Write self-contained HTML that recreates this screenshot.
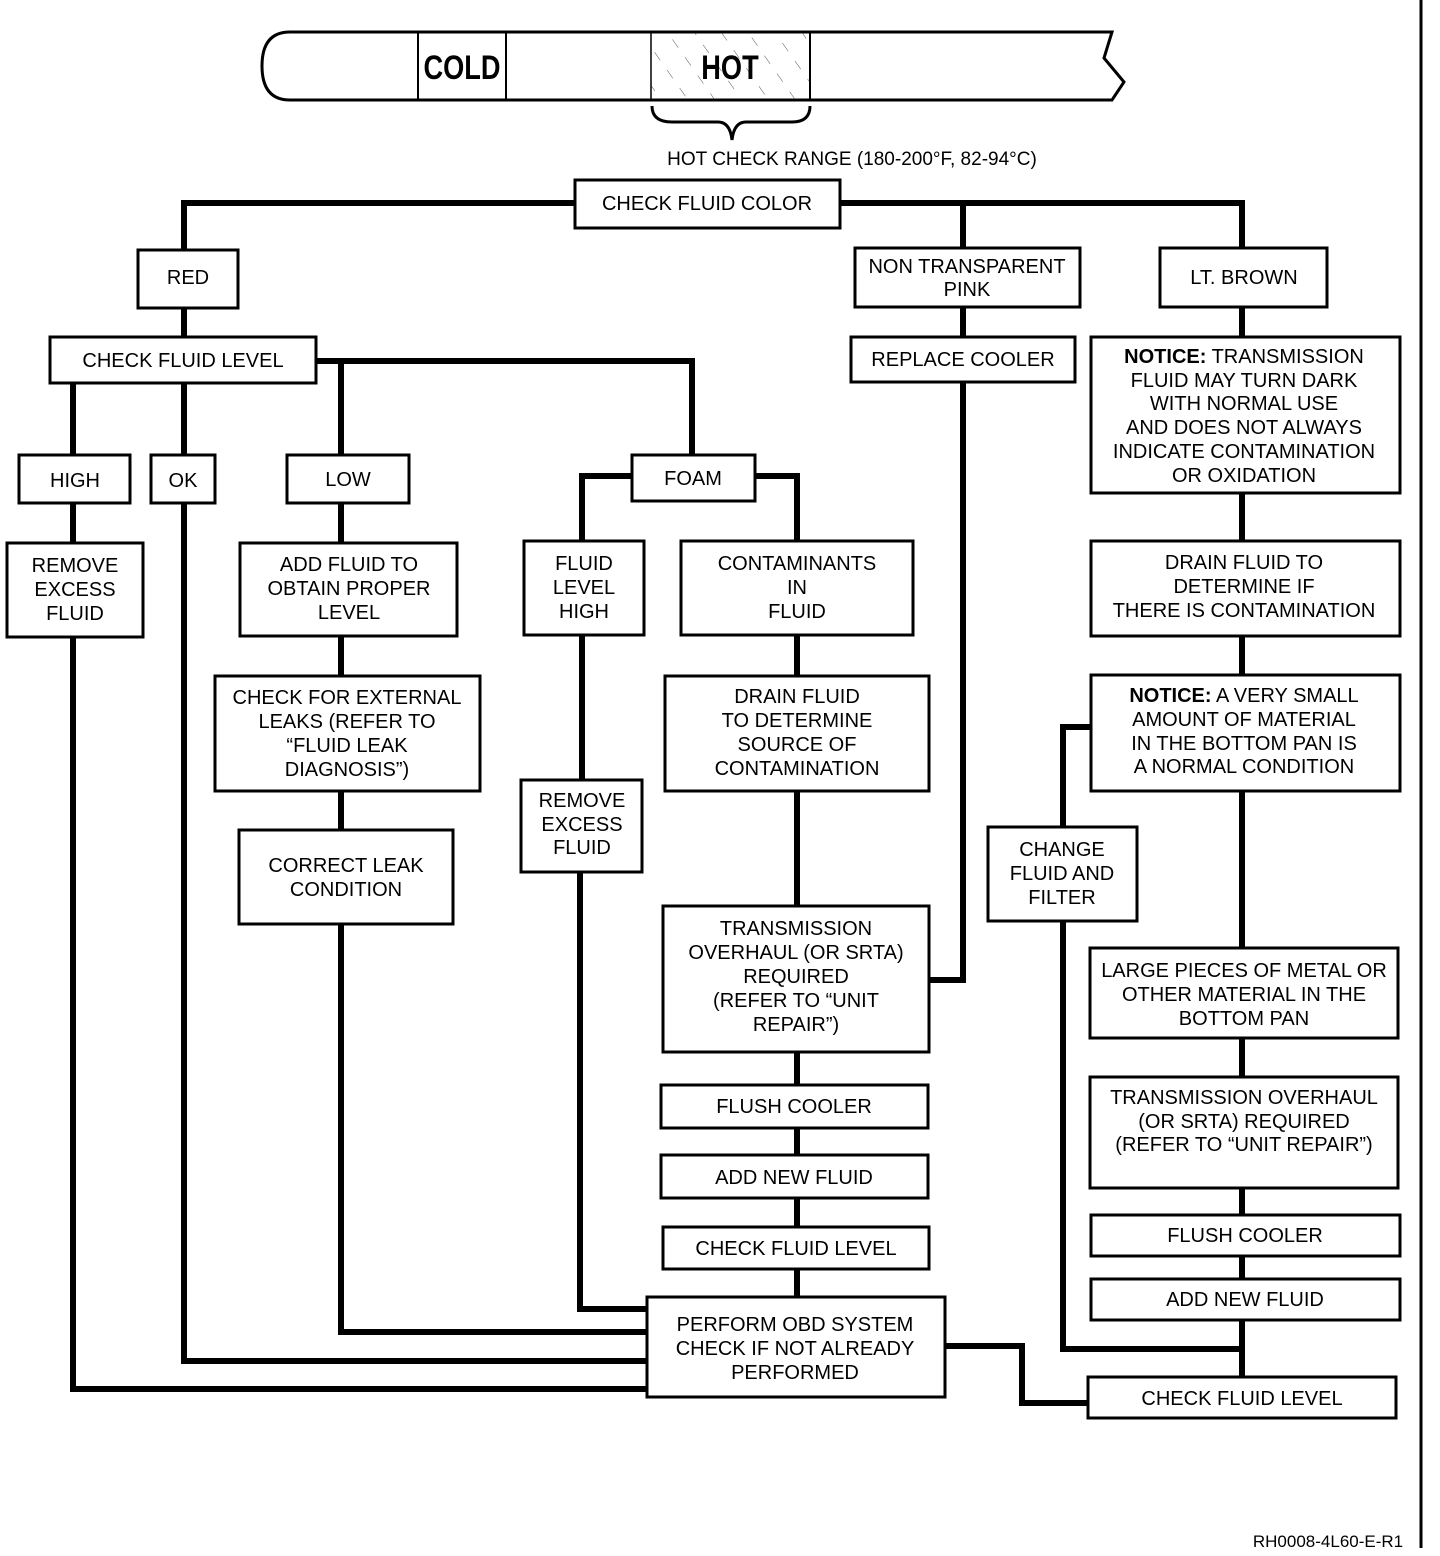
<!DOCTYPE html>
<html><head><meta charset="utf-8"><style>
html,body{margin:0;padding:0;background:#fff}
svg{display:block}
text{font-family:"Liberation Sans",Arial,sans-serif;font-size:20px;fill:#000;text-anchor:middle}
.b{fill:#fff;stroke:#000;stroke-width:3}
.l{fill:none;stroke:#000;stroke-width:6;stroke-linejoin:miter}
</style></head><body>
<svg width="1440" height="1556" viewBox="0 0 1440 1556" xmlns="http://www.w3.org/2000/svg">
<defs>
<pattern id="h" width="22" height="22" patternUnits="userSpaceOnUse" patternTransform="rotate(-35)">
<line x1="0" y1="0" x2="0" y2="10" stroke="#555" stroke-width="1"/>
</pattern>
</defs>
<!-- dipstick -->
<path d="M290,32 L1112,32 L1104,58 L1124,82 L1112,100 L290,100 Q262,100 262,66 Q262,32 290,32 Z" fill="#fff" stroke="#000" stroke-width="3"/>
<line x1="418" y1="32" x2="418" y2="100" stroke="#000" stroke-width="2"/>
<line x1="506" y1="32" x2="506" y2="100" stroke="#000" stroke-width="2"/>
<rect x="651" y="33" width="159" height="66" fill="url(#h)"/>
<line x1="651" y1="32" x2="651" y2="100" stroke="#000" stroke-width="1.5"/>
<line x1="810" y1="32" x2="810" y2="100" stroke="#000" stroke-width="2"/>
<text x="462" y="79" style="font-size:34px;font-weight:bold" transform="translate(462 0) scale(0.8 1) translate(-462 0)">COLD</text>
<text x="730" y="79" style="font-size:34px;font-weight:bold" transform="translate(730 0) scale(0.8 1) translate(-730 0)">HOT</text>
<path d="M652,106 Q652,122 672,122 L718,122 Q730,122 732,140 Q734,122 746,122 L792,122 Q810,122 810,106" fill="none" stroke="#000" stroke-width="3"/>
<text x="852" y="165" style="font-size:19px">HOT CHECK RANGE (180-200°F, 82-94°C)</text>

<!-- right border line -->
<line x1="1421" y1="0" x2="1421" y2="1548" stroke="#000" stroke-width="3"/>

<!-- connectors -->
<g class="l">
<polyline points="184,250 184,203 575,203"/>
<polyline points="840,203 1242,203 1242,248"/>
<line x1="963" y1="203" x2="963" y2="248"/>
<line x1="184" y1="308" x2="184" y2="337"/>
<polyline points="316,361 692,361 692,455"/>
<line x1="341" y1="361" x2="341" y2="455"/>
<line x1="73" y1="383" x2="73" y2="455"/>
<line x1="184" y1="383" x2="184" y2="455"/>
<line x1="73" y1="503" x2="73" y2="543"/>
<line x1="341" y1="503" x2="341" y2="543"/>
<line x1="341" y1="636" x2="341" y2="676"/>
<line x1="341" y1="791" x2="341" y2="830"/>
<polyline points="632,476 582,476 582,541"/>
<polyline points="755,476 797,476 797,541"/>
<line x1="582" y1="635" x2="582" y2="780"/>
<line x1="797" y1="635" x2="797" y2="1297"/>
<polyline points="963,307 963,980 929,980"/>
<polyline points="73,637 73,1389 647,1389"/>
<polyline points="184,503 184,1361 647,1361"/>
<polyline points="341,924 341,1332 647,1332"/>
<polyline points="580,872 580,1309 647,1309"/>
<polyline points="945,1346 1022,1346 1022,1403 1088,1403"/>
<line x1="1242" y1="307" x2="1242" y2="1377"/>
<polyline points="1091,727 1063,727 1063,827"/>
<polyline points="1063,921 1063,1349 1242,1349"/>
</g>

<!-- boxes -->
<g class="b">
<rect x="575" y="180" width="265" height="48"/>
<rect x="138" y="250" width="100" height="58"/>
<rect x="855" y="248" width="225" height="59"/>
<rect x="1160" y="248" width="167" height="59"/>
<rect x="50" y="337" width="266" height="46"/>
<rect x="851" y="337" width="224" height="45"/>
<rect x="1091" y="337" width="309" height="156"/>
<rect x="19" y="455" width="111" height="48"/>
<rect x="151" y="455" width="64" height="48"/>
<rect x="287" y="455" width="122" height="48"/>
<rect x="632" y="455" width="123" height="46"/>
<rect x="7" y="543" width="136" height="94"/>
<rect x="240" y="543" width="217" height="93"/>
<rect x="524" y="541" width="120" height="94"/>
<rect x="681" y="541" width="232" height="94"/>
<rect x="1091" y="541" width="309" height="95"/>
<rect x="215" y="676" width="265" height="115"/>
<rect x="665" y="676" width="264" height="115"/>
<rect x="1091" y="675" width="309" height="116"/>
<rect x="521" y="780" width="121" height="92"/>
<rect x="239" y="830" width="214" height="94"/>
<rect x="988" y="827" width="149" height="94"/>
<rect x="663" y="906" width="266" height="146"/>
<rect x="1090" y="948" width="308" height="90"/>
<rect x="661" y="1085" width="267" height="43"/>
<rect x="1090" y="1077" width="308" height="111"/>
<rect x="661" y="1155" width="267" height="43"/>
<rect x="1091" y="1215" width="309" height="41"/>
<rect x="663" y="1227" width="266" height="42"/>
<rect x="1091" y="1279" width="309" height="41"/>
<rect x="647" y="1297" width="298" height="100"/>
<rect x="1088" y="1377" width="308" height="41"/>
</g>

<!-- labels -->
<text x="707" y="210">CHECK FLUID COLOR</text>
<text x="188" y="284">RED</text>
<text x="967" y="273">NON TRANSPARENT</text>
<text x="967" y="296">PINK</text>
<text x="1244" y="284">LT. BROWN</text>
<text x="183" y="367">CHECK FLUID LEVEL</text>
<text x="963" y="366">REPLACE COOLER</text>
<text x="1244" y="363"><tspan font-weight="bold">NOTICE:</tspan>  TRANSMISSION</text>
<text x="1244" y="387">FLUID MAY TURN DARK</text>
<text x="1244" y="410">WITH NORMAL USE</text>
<text x="1244" y="434">AND DOES NOT ALWAYS</text>
<text x="1244" y="458">INDICATE CONTAMINATION</text>
<text x="1244" y="482">OR OXIDATION</text>
<text x="75" y="487">HIGH</text>
<text x="183" y="487">OK</text>
<text x="348" y="486">LOW</text>
<text x="693" y="485">FOAM</text>
<text x="75" y="572">REMOVE</text>
<text x="75" y="596">EXCESS</text>
<text x="75" y="620">FLUID</text>
<text x="349" y="571">ADD FLUID TO</text>
<text x="349" y="595">OBTAIN PROPER</text>
<text x="349" y="619">LEVEL</text>
<text x="584" y="570">FLUID</text>
<text x="584" y="594">LEVEL</text>
<text x="584" y="618">HIGH</text>
<text x="797" y="570">CONTAMINANTS</text>
<text x="797" y="594">IN</text>
<text x="797" y="618">FLUID</text>
<text x="1244" y="569">DRAIN FLUID TO</text>
<text x="1244" y="593">DETERMINE IF</text>
<text x="1244" y="617">THERE IS CONTAMINATION</text>
<text x="347" y="704">CHECK FOR EXTERNAL</text>
<text x="347" y="728">LEAKS (REFER TO</text>
<text x="347" y="752">“FLUID LEAK</text>
<text x="347" y="776">DIAGNOSIS”)</text>
<text x="797" y="703">DRAIN FLUID</text>
<text x="797" y="727">TO DETERMINE</text>
<text x="797" y="751">SOURCE OF</text>
<text x="797" y="775">CONTAMINATION</text>
<text x="1244" y="702"><tspan font-weight="bold">NOTICE:</tspan>  A VERY SMALL</text>
<text x="1244" y="726">AMOUNT OF MATERIAL</text>
<text x="1244" y="750">IN THE BOTTOM PAN IS</text>
<text x="1244" y="773">A NORMAL CONDITION</text>
<text x="582" y="807">REMOVE</text>
<text x="582" y="831">EXCESS</text>
<text x="582" y="854">FLUID</text>
<text x="346" y="872">CORRECT LEAK</text>
<text x="346" y="896">CONDITION</text>
<text x="1062" y="856">CHANGE</text>
<text x="1062" y="880">FLUID AND</text>
<text x="1062" y="904">FILTER</text>
<text x="796" y="935">TRANSMISSION</text>
<text x="796" y="959">OVERHAUL (OR SRTA)</text>
<text x="796" y="983">REQUIRED</text>
<text x="796" y="1007">(REFER TO “UNIT</text>
<text x="796" y="1031">REPAIR”)</text>
<text x="1244" y="977">LARGE PIECES OF METAL OR</text>
<text x="1244" y="1001">OTHER MATERIAL IN THE</text>
<text x="1244" y="1025">BOTTOM PAN</text>
<text x="794" y="1113">FLUSH COOLER</text>
<text x="1244" y="1104">TRANSMISSION OVERHAUL</text>
<text x="1244" y="1128">(OR SRTA) REQUIRED</text>
<text x="1244" y="1151">(REFER TO “UNIT REPAIR”)</text>
<text x="794" y="1184">ADD NEW FLUID</text>
<text x="1245" y="1242">FLUSH COOLER</text>
<text x="796" y="1255">CHECK FLUID LEVEL</text>
<text x="1245" y="1306">ADD NEW FLUID</text>
<text x="795" y="1331">PERFORM OBD SYSTEM</text>
<text x="795" y="1355">CHECK IF NOT ALREADY</text>
<text x="795" y="1379">PERFORMED</text>
<text x="1242" y="1405">CHECK FLUID LEVEL</text>
<text x="1328" y="1547" style="font-size:17px">RH0008-4L60-E-R1</text>
</svg>
</body></html>
